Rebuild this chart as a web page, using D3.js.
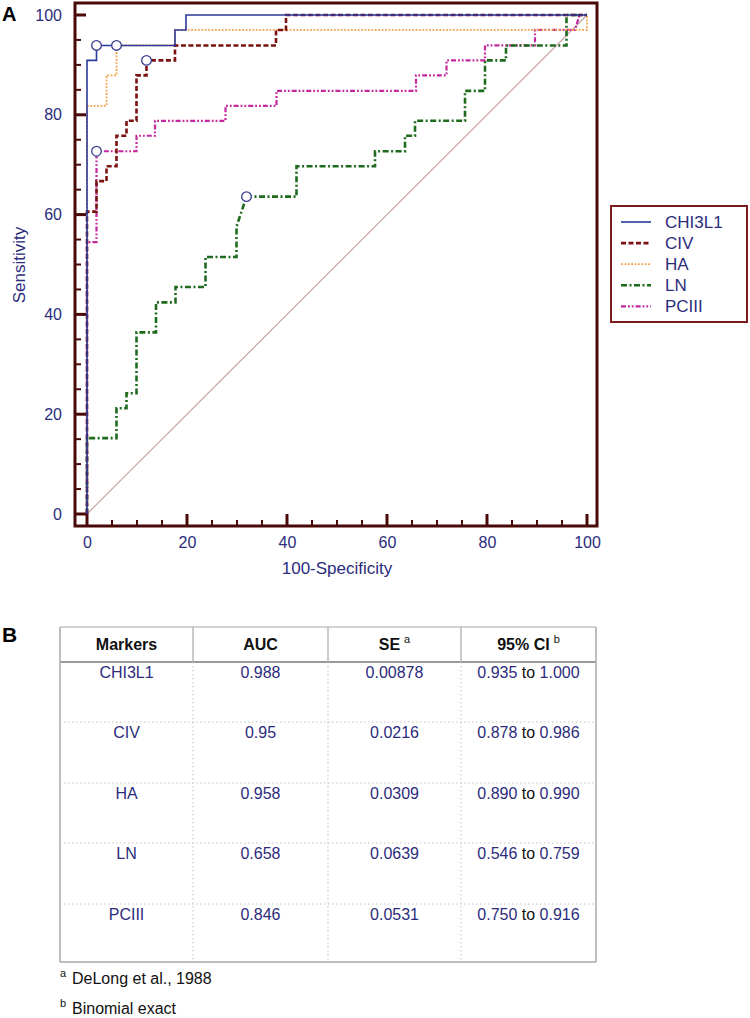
<!DOCTYPE html>
<html><head><meta charset="utf-8">
<script src="https://cdn.jsdelivr.net/npm/d3@7"></script>
<style>
html,body{margin:0;padding:0;background:#fff;}
svg{display:block;font-family:"Liberation Sans",Arial,sans-serif;}
</style></head>
<body>
<svg id="c" width="750" height="1018"></svg>
<script>
// ---- ROC data (100-Specificity, Sensitivity) ----
const chi3l1 = [[0,0],[0,90.9],[1.9,90.9],[1.9,93.9],[17.6,93.9],[17.6,97],[19.8,97],[19.8,100],[100,100]];
const civ    = [[0,0],[0,60.6],[1.9,60.6],[1.9,66.7],[3.9,66.7],[3.9,69.7],[5.9,69.7],[5.9,75.8],[7.9,75.8],[7.9,78.8],[9.9,78.8],[9.9,87.9],[11.9,87.9],[11.9,90.9],[17.6,90.9],[17.6,93.9],[37.8,93.9],[37.8,97],[39.8,97],[39.8,100],[100,100]];
const ha     = [[0,0],[0,81.8],[3.9,81.8],[3.9,87.9],[5.9,87.9],[5.9,93.9],[17.6,93.9],[17.6,97],[100,97],[100,100]];
const ln     = [[0,0],[0,15.2],[5.9,15.2],[5.9,21.2],[7.9,21.2],[7.9,24.2],[9.9,24.2],[9.9,36.4],[13.8,36.4],[13.8,42.4],[17.7,42.4],[17.7,45.5],[23.7,45.5],[23.7,51.5],[29.9,51.5],[29.9,57.6],[31.9,63.6],[41.9,63.6],[41.9,69.7],[57.6,69.7],[57.6,72.7],[63.6,72.7],[63.6,75.8],[65.6,75.8],[65.6,78.8],[75.6,78.8],[75.6,84.8],[79.6,84.8],[79.6,90.9],[83.8,90.9],[83.8,93.9],[95.9,93.9],[95.9,100],[100,100]];
const pciii  = [[0,0],[0,54.5],[1.9,54.5],[1.9,72.7],[9.9,72.7],[9.9,75.8],[13.6,75.8],[13.6,78.8],[27.7,78.8],[27.7,81.8],[37.9,81.8],[37.9,84.8],[65.8,84.8],[65.8,87.9],[71.9,87.9],[71.9,90.9],[79.6,90.9],[79.6,93.9],[89.6,93.9],[89.6,97],[97.6,97],[98.5,100],[100,100]];
const seriesNames = ["CHI3L1","CIV","HA","LN","PCIII"];
const cutoffs = [[1.9,93.9],[5.9,93.9],[11.9,90.9],[31.9,63.6],[1.9,72.7]];
const majorTicks = [0,20,40,60,80,100];
const minorTicks = [5,10,15,25,30,35,45,50,55,65,70,75,85,90,95];

// ---- table data ----
const tblHeaders = ["Markers","AUC","SE","95% CI"];
const tblMarkers = ["CHI3L1","CIV","HA","LN","PCIII"];
const tblAUC = ["0.988","0.95","0.958","0.658","0.846"];
const tblSE = ["0.00878","0.0216","0.0309","0.0639","0.0531"];
const tblCILow = ["0.935","0.878","0.890","0.546","0.750"];
const tblCIHigh = ["1.000","0.986","0.990","0.759","0.916"];
const footnotes = [["a","DeLong et al., 1988"],["b","Binomial exact"]];

const svg = d3.select("#c");
const navy = "#2c2c7c", maroon = "#4a0808";
const x = d3.scaleLinear().domain([0,100]).range([87,587]);
const y = d3.scaleLinear().domain([0,100]).range([514,15]);

const styles = [
  {color:"#2b3a9a", w:1.6, dash:null},
  {color:"#7a1212", w:2.6, dash:"5,2.5"},
  {color:"#f4a048", w:1.8, dash:"1.8,1.6"},
  {color:"#1e6b1e", w:2.6, dash:"6,2.5,2,2.5"},
  {color:"#c4279e", w:2.2, dash:"5,2,1.8,2,1.8,2"}
];
const allSeries = [chi3l1, civ, ha, ln, pciii];

// panel letter
svg.append("text").attr("x",2).attr("y",21).attr("font-size",20).attr("font-weight","bold").text("A");

// diagonal reference
svg.append("line").attr("x1",x(0)).attr("y1",y(0)).attr("x2",x(100)).attr("y2",y(100))
  .attr("stroke","#c9a6a6").attr("stroke-width",1.2);

// curves
const line = d3.line().x(d=>x(d[0])).y(d=>y(d[1]));
const drawOrder = [4,3,2,1,0];
drawOrder.forEach(i=>{
  const s = styles[i];
  svg.append("path").datum(allSeries[i]).attr("d",line).attr("fill","none")
    .attr("stroke",s.color).attr("stroke-width",s.w).attr("stroke-dasharray",s.dash);
});

// cutoff circles
svg.selectAll("circle.cut").data(cutoffs).join("circle").attr("class","cut")
  .attr("cx",d=>x(d[0])).attr("cy",d=>y(d[1])).attr("r",4.8)
  .attr("fill","#fff").attr("stroke","#3a3f90").attr("stroke-width",1.3);

// frame
svg.append("rect").attr("x",75).attr("y",3).attr("width",522).attr("height",523)
  .attr("fill","none").attr("stroke",maroon).attr("stroke-width",3);

// ticks
svg.selectAll("line.ymaj").data(majorTicks).join("line").attr("x1",75).attr("x2",86)
  .attr("y1",d=>y(d)).attr("y2",d=>y(d)).attr("stroke",maroon).attr("stroke-width",3);
svg.selectAll("line.ymin").data(minorTicks).join("line").attr("x1",75).attr("x2",81)
  .attr("y1",d=>y(d)).attr("y2",d=>y(d)).attr("stroke",maroon).attr("stroke-width",2);
svg.selectAll("line.xmaj").data(majorTicks).join("line").attr("y1",526).attr("y2",514)
  .attr("x1",d=>x(d)).attr("x2",d=>x(d)).attr("stroke",maroon).attr("stroke-width",3);
svg.selectAll("line.xmin").data(minorTicks).join("line").attr("y1",526).attr("y2",520)
  .attr("x1",d=>x(d)).attr("x2",d=>x(d)).attr("stroke",maroon).attr("stroke-width",2);

// axis labels via d3 axes
const ya = svg.append("g").attr("transform","translate(75,0)")
  .call(d3.axisLeft(y).tickValues(majorTicks).tickSize(0).tickPadding(13));
const xa = svg.append("g").attr("transform","translate(0,526)")
  .call(d3.axisBottom(x).tickValues(majorTicks).tickSize(0).tickPadding(11));
[ya,xa].forEach(g=>{
  g.select(".domain").remove();
  g.selectAll("text").attr("font-size",16).attr("fill",navy).attr("font-family","Liberation Sans, Arial, sans-serif");
});
svg.append("text").attr("transform","translate(25,265) rotate(-90)").attr("text-anchor","middle")
  .attr("font-size",17).attr("fill",navy).text("Sensitivity");
svg.append("text").attr("x",337).attr("y",574).attr("text-anchor","middle")
  .attr("font-size",17).attr("fill",navy).text("100-Specificity");

// legend
svg.append("rect").attr("x",611).attr("y",206).attr("width",136).attr("height",116)
  .attr("fill","#fff").attr("stroke","#7a1a1a").attr("stroke-width",2);
const lg = svg.selectAll("g.lg").data(seriesNames).join("g").attr("class","lg")
  .attr("transform",(d,i)=>`translate(0,${222+i*21.1})`);
lg.append("line").attr("x1",621).attr("x2",651).attr("y1",0).attr("y2",0)
  .attr("stroke",(d,i)=>styles[i].color).attr("stroke-width",(d,i)=>styles[i].w)
  .attr("stroke-dasharray",(d,i)=>styles[i].dash);
lg.append("text").attr("x",665).attr("y",6).attr("font-size",17).attr("fill",navy).text(d=>d);

// ---- Table B ----
svg.append("text").attr("x",2).attr("y",642).attr("font-size",21).attr("font-weight","bold").text("B");
const colX = [60,193,328,461,596];
const tTop = 627, hBot = 662;
const rowTop = [662,722,783,843,904];
const tBot = 962;
const grid = svg.append("g");
grid.append("line").attr("x1",60).attr("x2",596).attr("y1",tTop).attr("y2",tTop).attr("stroke","#a8a8a8").attr("stroke-width",1.2);
grid.append("line").attr("x1",60).attr("x2",596).attr("y1",hBot).attr("y2",hBot).attr("stroke","#9a9a9a").attr("stroke-width",2);
grid.append("line").attr("x1",60).attr("x2",596).attr("y1",tBot).attr("y2",tBot).attr("stroke","#a8a8a8").attr("stroke-width",1.5);
grid.append("line").attr("x1",60).attr("x2",60).attr("y1",tTop).attr("y2",tBot).attr("stroke","#a8a8a8").attr("stroke-width",1.5);
grid.append("line").attr("x1",596).attr("x2",596).attr("y1",tTop).attr("y2",tBot).attr("stroke","#a8a8a8").attr("stroke-width",1.5);
colX.slice(1,4).forEach(cx=>{
  grid.append("line").attr("x1",cx).attr("x2",cx).attr("y1",tTop).attr("y2",hBot).attr("stroke","#a8a8a8").attr("stroke-width",1.2);
  grid.append("line").attr("x1",cx).attr("x2",cx).attr("y1",hBot).attr("y2",tBot).attr("stroke","#c4c4c4").attr("stroke-width",1).attr("stroke-dasharray","1.5,2.5");
});
rowTop.slice(1).forEach(ry=>{
  grid.append("line").attr("x1",60).attr("x2",596).attr("y1",ry).attr("y2",ry).attr("stroke","#c4c4c4").attr("stroke-width",1).attr("stroke-dasharray","1.5,2.5");
});
const colC = [0,1,2,3].map(i=>(colX[i]+colX[i+1])/2);
const sups = [null,null,"a","b"];
tblHeaders.forEach((h,i)=>{
  const t = svg.append("text").attr("x",colC[i]).attr("y",650).attr("text-anchor","middle")
    .attr("font-size",16).attr("font-weight","bold").attr("fill","#111");
  t.append("tspan").text(h);
  if(sups[i]){ t.append("tspan").attr("dx",4).attr("dy",-7).attr("font-size",11).attr("font-weight","normal").text(sups[i]); }
});
tblMarkers.forEach((m,r)=>{
  const by = rowTop[r]+16;
  [m, tblAUC[r], tblSE[r]].forEach((v,c)=>{
    svg.append("text").attr("x",colC[c]).attr("y",by).attr("text-anchor","middle")
      .attr("font-size",16).attr("fill",navy).text(v);
  });
  const t = svg.append("text").attr("x",colC[3]).attr("y",by).attr("text-anchor","middle").attr("font-size",16);
  t.append("tspan").attr("fill",navy).text(tblCILow[r]);
  t.append("tspan").attr("fill","#111").text(" to ");
  t.append("tspan").attr("fill",navy).text(tblCIHigh[r]);
});
footnotes.forEach((f,i)=>{
  const by = 984+i*30;
  svg.append("text").attr("x",60).attr("y",by-7).attr("font-size",11).attr("fill","#111").text(f[0]);
  svg.append("text").attr("x",72).attr("y",by).attr("font-size",16).attr("fill","#111").text(f[1]);
});
</script>
</body></html>
